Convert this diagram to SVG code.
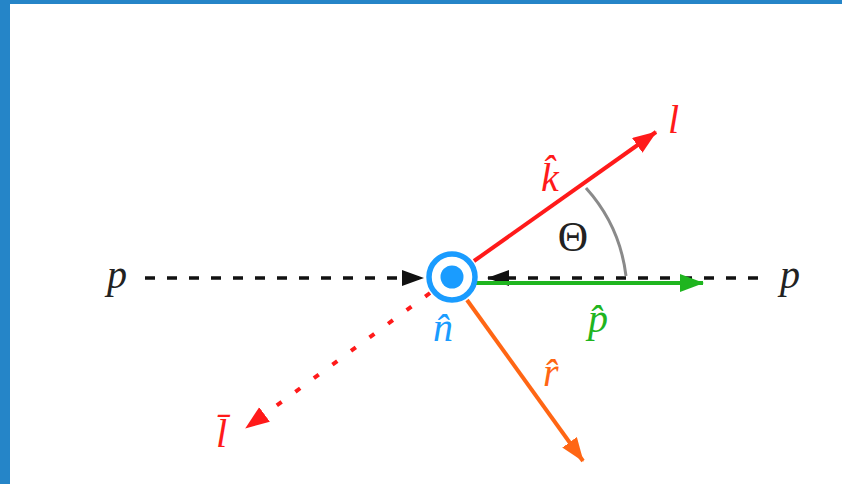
<svg xmlns="http://www.w3.org/2000/svg" width="842" height="484" viewBox="0 0 842 484">
<style>
.lbl{font-family:"Liberation Serif","DejaVu Serif",serif;font-style:italic;font-size:40px}
.dash{fill:none;stroke:#111;stroke-width:3.5;stroke-dasharray:10 12}
</style>
<defs>
<marker id="ak" markerUnits="userSpaceOnUse" markerWidth="22" markerHeight="18" refX="21" refY="8" orient="auto"><path d="M0,0 L22,8 L0,16 z" fill="#111"/></marker>
<marker id="ar" markerUnits="userSpaceOnUse" markerWidth="24" markerHeight="20" refX="23" refY="9" orient="auto"><path d="M0,0 L24,9 L0,18 z" fill="#ff1a1a"/></marker>
<marker id="ag" markerUnits="userSpaceOnUse" markerWidth="24" markerHeight="20" refX="23" refY="9" orient="auto"><path d="M0,0 L24,9 L0,18 z" fill="#1fb51f"/></marker>
<marker id="ao" markerUnits="userSpaceOnUse" markerWidth="24" markerHeight="20" refX="23" refY="9" orient="auto"><path d="M0,0 L24,9 L0,18 z" fill="#ff6614"/></marker>
</defs>
<rect x="0" y="0" width="842" height="484" fill="#fff"/>
<rect x="0" y="0" width="842" height="4" fill="#2585c8"/>
<rect x="0" y="0" width="10" height="484" fill="#2585c8"/>
<g id="connectors">
<line class="dash" x1="145" y1="278" x2="423" y2="278" marker-end="url(#ak)"/>
<line class="dash" x1="758" y1="278" x2="488" y2="278" marker-end="url(#ak)"/>
<line x1="476" y1="283" x2="703" y2="283" stroke="#1fb51f" stroke-width="4" marker-end="url(#ag)"/>
<line x1="474" y1="261" x2="656" y2="132" stroke="#ff1a1a" stroke-width="4" marker-end="url(#ar)"/>
<line x1="430" y1="293" x2="246" y2="428" stroke="#ff1a1a" stroke-width="4" stroke-dasharray="6 17" marker-end="url(#ar)"/>
<line x1="467" y1="300" x2="583" y2="461" stroke="#ff6614" stroke-width="4" marker-end="url(#ao)"/>
<path d="M586,188 A160,160 0 0 1 626,276" fill="none" stroke="#8a8a8a" stroke-width="3"/>
</g>
<g id="node-center">
<circle cx="452" cy="277" r="23" fill="#fff" stroke="#1a9cff" stroke-width="5.5"/>
<circle cx="452" cy="277" r="11.5" fill="#1a9cff"/>
</g>
<g id="labels">
<text class="lbl" x="107" y="288" fill="#222">p</text>
<text class="lbl" x="780" y="288" fill="#222">p</text>
<text class="lbl" x="668" y="133" fill="#ff1a1a">l</text>
<text class="lbl" x="541" y="191" fill="#ff1a1a">k̂</text>
<text x="573" y="251" font-family="Liberation Serif,serif" font-size="42" text-anchor="middle" fill="#222">Θ</text>
<text class="lbl" x="433" y="341" fill="#1a9cff">n̂</text>
<text class="lbl" x="588" y="332" fill="#1fb51f">p̂</text>
<text class="lbl" x="543" y="386" fill="#ff6614">r̂</text>
<text class="lbl" x="216" y="447" fill="#ff1a1a">l̄</text>
</g>
</svg>
